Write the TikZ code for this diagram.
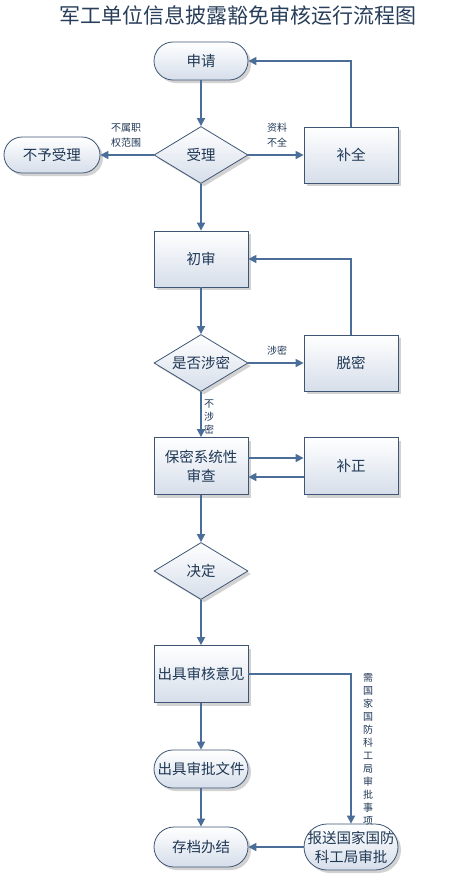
\documentclass[tikz,border=0pt]{standalone}
\usepackage{fontspec}
\newfontfamily\cjk{Noto Sans CJK SC}
\usetikzlibrary{shapes.geometric,shadows,arrows.meta}
\definecolor{flowline}{RGB}{74,110,152}
\definecolor{flowedge}{RGB}{62,86,116}
\definecolor{flowtext}{RGB}{30,55,85}
\definecolor{flowfill}{RGB}{214,222,234}
\definecolor{titletext}{RGB}{40,62,90}
\tikzset{
  base/.style={draw=flowedge, line width=0.8pt, text=flowtext,
    font=\cjk\fontsize{14.5}{19}\selectfont, top color=white, bottom color=flowfill,
    drop shadow={shadow xshift=3pt, shadow yshift=-3pt, fill=black!35},
    align=center, inner sep=1pt},
  terminal/.style={base, rectangle, rounded corners=19pt, minimum width=94pt, minimum height=38pt},
  procbox/.style={base, rectangle, minimum width=94pt, minimum height=56pt},
  decision/.style={base, diamond, aspect=1.7, minimum width=94pt, minimum height=57pt},
  flow/.style={draw=flowline, line width=1.6pt, -{Triangle[length=8pt,width=8pt]}},
  tag/.style={text=flowtext, font=\cjk\fontsize{10}{13}\selectfont, align=center, inner sep=0pt},
}
\begin{document}
\begin{tikzpicture}[x=1pt,y=-1pt]
  \useasboundingbox (0,0) rectangle (459,879);
  % title
  \node[text=titletext, font=\cjk\fontsize{21}{24}\selectfont] (title) at (238,15) {军工单位信息披露豁免审核运行流程图};
  % nodes
  \node[terminal] (apply) at (201,61) {申请};
  \node[decision] (accept) at (201,155) {受理};
  \node[terminal, minimum width=96pt, minimum height=36pt, rounded corners=18pt] (reject) at (52,155) {不予受理};
  \node[procbox] (supply) at (351,155) {补全};
  \node[procbox] (firstrev) at (201,259) {初审};
  \node[decision] (secret) at (201,363) {是否涉密};
  \node[procbox] (declass) at (351,363) {脱密};
  \node[procbox, minimum height=57pt] (sysrev) at (201,466) {保密系统性\\审查};
  \node[procbox, minimum height=57pt] (correct) at (351,466) {补正};
  \node[decision] (decide) at (201,571) {决定};
  \node[procbox, minimum height=57pt] (opinion) at (201,674) {出具审核意见};
  \node[terminal] (document) at (201,769) {出具审批文件};
  \node[terminal, minimum height=40pt, rounded corners=20pt] (archive) at (201,847) {存档办结};
  \node[terminal, minimum height=46pt, rounded corners=23pt] (report) at (351,847) {报送国家国防\\科工局审批};
  % connectors
  \draw[flow] (apply) -- (accept);
  \draw[flow] (accept) -- (reject);
  \draw[flow] (accept) -- (supply);
  \draw[flow] (supply.north) |- (apply.east);
  \draw[flow] (accept) -- (firstrev);
  \draw[flow] (firstrev) -- (secret);
  \draw[flow] (secret) -- (declass);
  \draw[flow] (declass.north) |- (firstrev.east);
  \draw[flow] (secret) -- (sysrev);
  \draw[flow] ([yshift=8pt]sysrev.east) -- ([yshift=8pt]correct.west);
  \draw[flow] ([yshift=-11pt]correct.west) -- ([yshift=-11pt]sysrev.east);
  \draw[flow] (sysrev) -- (decide);
  \draw[flow] (decide) -- (opinion);
  \draw[flow] (opinion) -- (document);
  \draw[flow] (document) -- (archive);
  \draw[flow] (opinion.east) -| (report.north);
  \draw[flow] (report) -- (archive);
  % labels
  \node[tag, font=\cjk\fontsize{10}{15}\selectfont] (outscope) at (126,135) {不属职\\权范围};
  \node[tag, font=\cjk\fontsize{10}{15}\selectfont] (incomplete) at (277,135) {资料\\不全};
  \node[tag] (issecret) at (277,351) {涉密};
  \node[tag] (notsecret) at (209,417) {不\\涉\\密};
  \node[tag] (needstate) at (368,749) {需\\国\\家\\国\\防\\科\\工\\局\\审\\批\\事\\项};
\end{tikzpicture}
\end{document}
